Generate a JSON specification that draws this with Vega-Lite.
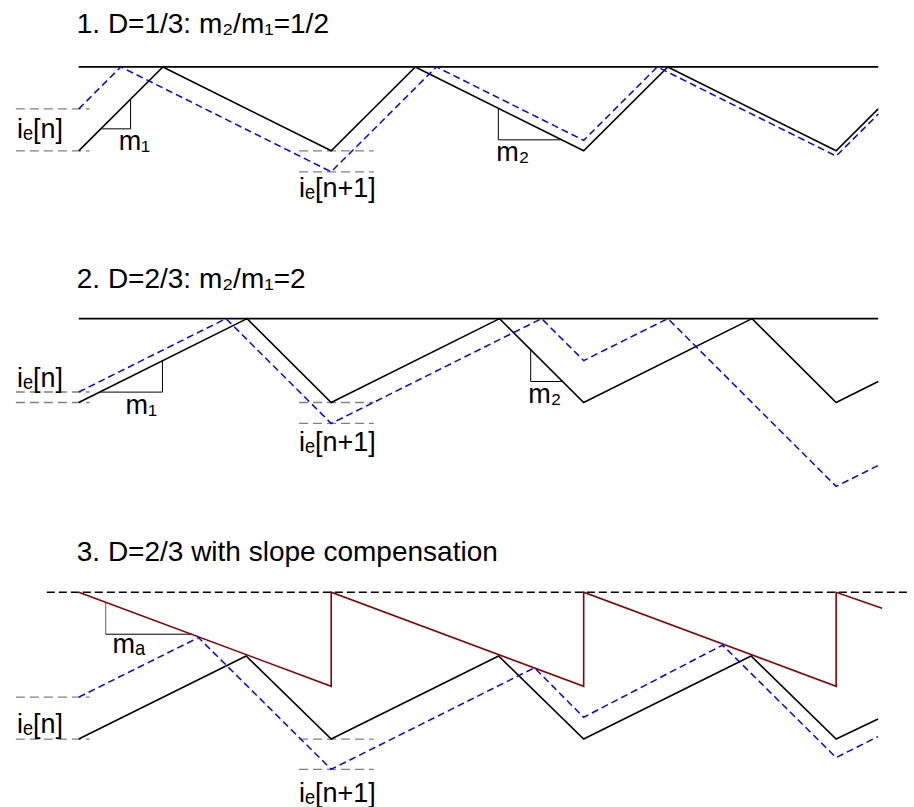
{
  "$schema": "https://vega.github.io/schema/vega-lite/v6.json",
  "autosize": {"type": "fit", "contains": "padding"},
  "width": 914,
  "height": 807,
  "padding": 0,
  "background": "white",
  "config": {"view": {"stroke": null}, "text": {"font": "Liberation Sans", "align": "left", "baseline": "alphabetic", "color": "black"}},
  "resolve": {"scale": {"y": "independent"}},
  "layer": [
    {
      "data": {"values": [
        {"s": "ref", "i": 0, "t": 0, "y": 1}, {"s": "ref", "i": 1, "t": 3.1667, "y": 1},
        {"s": "black", "i": 0, "t": 0, "y": 0}, {"s": "black", "i": 1, "t": 0.3333, "y": 1}, {"s": "black", "i": 2, "t": 1, "y": 0}, {"s": "black", "i": 3, "t": 1.3333, "y": 1},
        {"s": "black", "i": 4, "t": 2, "y": 0}, {"s": "black", "i": 5, "t": 2.3333, "y": 1}, {"s": "black", "i": 6, "t": 3, "y": 0}, {"s": "black", "i": 7, "t": 3.1667, "y": 0.5},
        {"s": "blue", "i": 0, "t": 0, "y": 0.5}, {"s": "blue", "i": 1, "t": 0.1667, "y": 1}, {"s": "blue", "i": 2, "t": 1, "y": -0.25}, {"s": "blue", "i": 3, "t": 1.4167, "y": 1},
        {"s": "blue", "i": 4, "t": 2, "y": 0.125}, {"s": "blue", "i": 5, "t": 2.2917, "y": 1}, {"s": "blue", "i": 6, "t": 3, "y": -0.0625}, {"s": "blue", "i": 7, "t": 3.1667, "y": 0.4375},
        {"s": "guide", "t": -0.249, "y": 0.5, "t2": 0.0434, "y2": 0.5},
        {"s": "guide", "t": -0.249, "y": 0, "t2": 0.0434, "y2": 0},
        {"s": "guide", "t": 0.8725, "y": 0, "t2": 1.1686, "y2": 0},
        {"s": "guide", "t": 0.8725, "y": -0.25, "t2": 1.1686, "y2": -0.25},
        {"s": "tri", "t": 0.2053, "y": 0.262, "t2": 0.2053, "y2": 0.616},
        {"s": "tri", "t": 0.0869, "y": 0.262, "t2": 0.2053, "y2": 0.262},
        {"s": "tri", "t": 1.662, "y": 0.507, "t2": 1.662, "y2": 0.131},
        {"s": "tri", "t": 1.662, "y": 0.131, "t2": 1.907, "y2": 0.131},
        {"s": "title", "t": -0.0079, "y": 1.405, "text": "1. D=1/3: m₂/m₁=1/2"},
        {"s": "label", "t": -0.2448, "y": 0.155, "text": "iₑ[n]"},
        {"s": "label", "t": 0.158, "y": 0.012, "text": "m₁"},
        {"s": "label", "t": 0.8725, "y": -0.548, "text": "iₑ[n+1]"},
        {"s": "label", "t": 1.654, "y": -0.119, "text": "m₂"}
      ]},
      "encoding": {
        "x": {"field": "t", "type": "quantitative", "scale": {"domain": [-0.31188, 3.29649], "nice": false, "zero": false}, "axis": null},
        "y": {"field": "y", "type": "quantitative", "scale": {"domain": [-7.80952, 1.79762], "nice": false, "zero": false}, "axis": null}
      },
      "layer": [
        {"transform": [{"filter": "datum.s === 'guide'"}], "mark": {"type": "rule", "color": "#808080", "strokeWidth": 1.3, "strokeDash": [9, 5]}, "encoding": {"x2": {"field": "t2"}, "y2": {"field": "y2"}}},
        {"transform": [{"filter": "datum.s === 'tri'"}], "mark": {"type": "rule", "color": "black", "strokeWidth": 1}, "encoding": {"x2": {"field": "t2"}, "y2": {"field": "y2"}}},
        {"transform": [{"filter": "datum.s === 'ref'"}], "mark": {"type": "line", "color": "black", "strokeWidth": 1.6}, "encoding": {"order": {"field": "i", "type": "quantitative"}}},
        {"transform": [{"filter": "datum.s === 'black'"}], "mark": {"type": "line", "color": "black", "strokeWidth": 1.6}, "encoding": {"order": {"field": "i", "type": "quantitative"}}},
        {"transform": [{"filter": "datum.s === 'blue'"}], "mark": {"type": "line", "color": "#0000ff", "strokeWidth": 1.5, "strokeDash": [7, 4]}, "encoding": {"order": {"field": "i", "type": "quantitative"}}},
        {"transform": [{"filter": "datum.s === 'title'"}], "mark": {"type": "text", "fontSize": 28}, "encoding": {"text": {"field": "text"}}},
        {"transform": [{"filter": "datum.s === 'label'"}], "mark": {"type": "text", "fontSize": 27}, "encoding": {"text": {"field": "text"}}}
      ]
    },
    {
      "data": {"values": [
        {"s": "ref", "i": 0, "t": 0, "y": 1}, {"s": "ref", "i": 1, "t": 3.1667, "y": 1},
        {"s": "black", "i": 0, "t": 0, "y": 0}, {"s": "black", "i": 1, "t": 0.6667, "y": 1}, {"s": "black", "i": 2, "t": 1, "y": 0}, {"s": "black", "i": 3, "t": 1.6667, "y": 1},
        {"s": "black", "i": 4, "t": 2, "y": 0}, {"s": "black", "i": 5, "t": 2.6667, "y": 1}, {"s": "black", "i": 6, "t": 3, "y": 0}, {"s": "black", "i": 7, "t": 3.1667, "y": 0.25},
        {"s": "blue", "i": 0, "t": 0, "y": 0.125}, {"s": "blue", "i": 1, "t": 0.5833, "y": 1}, {"s": "blue", "i": 2, "t": 1, "y": -0.25}, {"s": "blue", "i": 3, "t": 1.8333, "y": 1},
        {"s": "blue", "i": 4, "t": 2, "y": 0.5}, {"s": "blue", "i": 5, "t": 2.3333, "y": 1}, {"s": "blue", "i": 6, "t": 3, "y": -1}, {"s": "blue", "i": 7, "t": 3.1667, "y": -0.75},
        {"s": "guide", "t": -0.249, "y": 0.125, "t2": 0.0434, "y2": 0.125},
        {"s": "guide", "t": -0.249, "y": 0, "t2": 0.0434, "y2": 0},
        {"s": "guide", "t": 0.8725, "y": 0, "t2": 1.1686, "y2": 0},
        {"s": "guide", "t": 0.8725, "y": -0.25, "t2": 1.1686, "y2": -0.25},
        {"s": "tri", "t": 0.3316, "y": 0.124, "t2": 0.3316, "y2": 0.497},
        {"s": "tri", "t": 0.0829, "y": 0.124, "t2": 0.3316, "y2": 0.124},
        {"s": "tri", "t": 1.79, "y": 0.63, "t2": 1.79, "y2": 0.25},
        {"s": "tri", "t": 1.79, "y": 0.25, "t2": 1.9167, "y2": 0.25},
        {"s": "title", "t": -0.0079, "y": 1.369, "text": "2. D=2/3: m₂/m₁=2"},
        {"s": "label", "t": -0.2448, "y": 0.19, "text": "iₑ[n]"},
        {"s": "label", "t": 0.1856, "y": -0.143, "text": "m₁"},
        {"s": "label", "t": 0.8725, "y": -0.583, "text": "iₑ[n+1]"},
        {"s": "label", "t": 1.7805, "y": 0.0, "text": "m₂"}
      ]},
      "encoding": {
        "x": {"field": "t", "type": "quantitative", "scale": {"domain": [-0.31188, 3.29649], "nice": false, "zero": false}, "axis": null},
        "y": {"field": "y", "type": "quantitative", "scale": {"domain": [-4.80952, 4.79762], "nice": false, "zero": false}, "axis": null}
      },
      "layer": [
        {"transform": [{"filter": "datum.s === 'guide'"}], "mark": {"type": "rule", "color": "#808080", "strokeWidth": 1.3, "strokeDash": [9, 5]}, "encoding": {"x2": {"field": "t2"}, "y2": {"field": "y2"}}},
        {"transform": [{"filter": "datum.s === 'tri'"}], "mark": {"type": "rule", "color": "black", "strokeWidth": 1}, "encoding": {"x2": {"field": "t2"}, "y2": {"field": "y2"}}},
        {"transform": [{"filter": "datum.s === 'ref'"}], "mark": {"type": "line", "color": "black", "strokeWidth": 1.6}, "encoding": {"order": {"field": "i", "type": "quantitative"}}},
        {"transform": [{"filter": "datum.s === 'black'"}], "mark": {"type": "line", "color": "black", "strokeWidth": 1.6}, "encoding": {"order": {"field": "i", "type": "quantitative"}}},
        {"transform": [{"filter": "datum.s === 'blue'"}], "mark": {"type": "line", "color": "#0000ff", "strokeWidth": 1.5, "strokeDash": [7, 4]}, "encoding": {"order": {"field": "i", "type": "quantitative"}}},
        {"transform": [{"filter": "datum.s === 'title'"}], "mark": {"type": "text", "fontSize": 28}, "encoding": {"text": {"field": "text"}}},
        {"transform": [{"filter": "datum.s === 'label'"}], "mark": {"type": "text", "fontSize": 27}, "encoding": {"text": {"field": "text"}}}
      ]
    },
    {
      "data": {"values": [
        {"s": "top", "i": 0, "t": -0.1263, "y": 1.75}, {"s": "top", "i": 1, "t": 3.2926, "y": 1.75},
        {"s": "red", "i": 0, "t": 0, "y": 1.75}, {"s": "red", "i": 1, "t": 1, "y": 0.63}, {"s": "red", "i": 2, "t": 1, "y": 1.75}, {"s": "red", "i": 3, "t": 2, "y": 0.63},
        {"s": "red", "i": 4, "t": 2, "y": 1.75}, {"s": "red", "i": 5, "t": 3, "y": 0.63}, {"s": "red", "i": 6, "t": 3, "y": 1.75}, {"s": "red", "i": 7, "t": 3.182, "y": 1.56},
        {"s": "black", "i": 0, "t": 0, "y": 0}, {"s": "black", "i": 1, "t": 0.663, "y": 0.99}, {"s": "black", "i": 2, "t": 1, "y": 0}, {"s": "black", "i": 3, "t": 1.663, "y": 0.99},
        {"s": "black", "i": 4, "t": 2, "y": 0}, {"s": "black", "i": 5, "t": 2.663, "y": 0.99}, {"s": "black", "i": 6, "t": 3, "y": 0}, {"s": "black", "i": 7, "t": 3.166, "y": 0.24},
        {"s": "blue", "i": 0, "t": 0, "y": 0.5}, {"s": "blue", "i": 1, "t": 0.474, "y": 1.21}, {"s": "blue", "i": 2, "t": 1, "y": -0.36}, {"s": "blue", "i": 3, "t": 1.805, "y": 0.85},
        {"s": "blue", "i": 4, "t": 2, "y": 0.26}, {"s": "blue", "i": 5, "t": 2.55, "y": 1.12}, {"s": "blue", "i": 6, "t": 3, "y": -0.22}, {"s": "blue", "i": 7, "t": 3.166, "y": 0.03},
        {"s": "guide", "t": -0.249, "y": 0.5, "t2": 0.0434, "y2": 0.5},
        {"s": "guide", "t": -0.249, "y": 0, "t2": 0.0434, "y2": 0},
        {"s": "guide", "t": 0.8725, "y": 0, "t2": 1.1686, "y2": 0},
        {"s": "guide", "t": 0.8725, "y": -0.36, "t2": 1.1686, "y2": -0.36},
        {"s": "trig", "t": 0.1066, "y": 1.25, "t2": 0.1066, "y2": 1.631},
        {"s": "tri", "t": 0.1066, "y": 1.25, "t2": 0.45, "y2": 1.25},
        {"s": "title", "t": -0.0079, "y": 2.119, "text": "3. D=2/3 with slope compensation"},
        {"s": "label", "t": 0.134, "y": 1.024, "text": "mₐ"},
        {"s": "label", "t": -0.2448, "y": 0.071, "text": "iₑ[n]"},
        {"s": "label", "t": 0.8725, "y": -0.75, "text": "iₑ[n+1]"}
      ]},
      "encoding": {
        "x": {"field": "t", "type": "quantitative", "scale": {"domain": [-0.31188, 3.29649], "nice": false, "zero": false}, "axis": null},
        "y": {"field": "y", "type": "quantitative", "scale": {"domain": [-0.79762, 8.80952], "nice": false, "zero": false}, "axis": null}
      },
      "layer": [
        {"transform": [{"filter": "datum.s === 'guide'"}], "mark": {"type": "rule", "color": "#808080", "strokeWidth": 1.3, "strokeDash": [9, 5]}, "encoding": {"x2": {"field": "t2"}, "y2": {"field": "y2"}}},
        {"transform": [{"filter": "datum.s === 'trig'"}], "mark": {"type": "rule", "color": "#808080", "strokeWidth": 1.2}, "encoding": {"x2": {"field": "t2"}, "y2": {"field": "y2"}}},
        {"transform": [{"filter": "datum.s === 'tri'"}], "mark": {"type": "rule", "color": "black", "strokeWidth": 1}, "encoding": {"x2": {"field": "t2"}, "y2": {"field": "y2"}}},
        {"transform": [{"filter": "datum.s === 'top'"}], "mark": {"type": "line", "color": "black", "strokeWidth": 1.6, "strokeDash": [8, 4]}, "encoding": {"order": {"field": "i", "type": "quantitative"}}},
        {"transform": [{"filter": "datum.s === 'black'"}], "mark": {"type": "line", "color": "black", "strokeWidth": 1.6}, "encoding": {"order": {"field": "i", "type": "quantitative"}}},
        {"transform": [{"filter": "datum.s === 'red'"}], "mark": {"type": "line", "color": "#8b0000", "strokeWidth": 1.6}, "encoding": {"order": {"field": "i", "type": "quantitative"}}},
        {"transform": [{"filter": "datum.s === 'blue'"}], "mark": {"type": "line", "color": "#0000ff", "strokeWidth": 1.5, "strokeDash": [7, 4]}, "encoding": {"order": {"field": "i", "type": "quantitative"}}},
        {"transform": [{"filter": "datum.s === 'title'"}], "mark": {"type": "text", "fontSize": 28}, "encoding": {"text": {"field": "text"}}},
        {"transform": [{"filter": "datum.s === 'label'"}], "mark": {"type": "text", "fontSize": 27}, "encoding": {"text": {"field": "text"}}}
      ]
    }
  ]
}
